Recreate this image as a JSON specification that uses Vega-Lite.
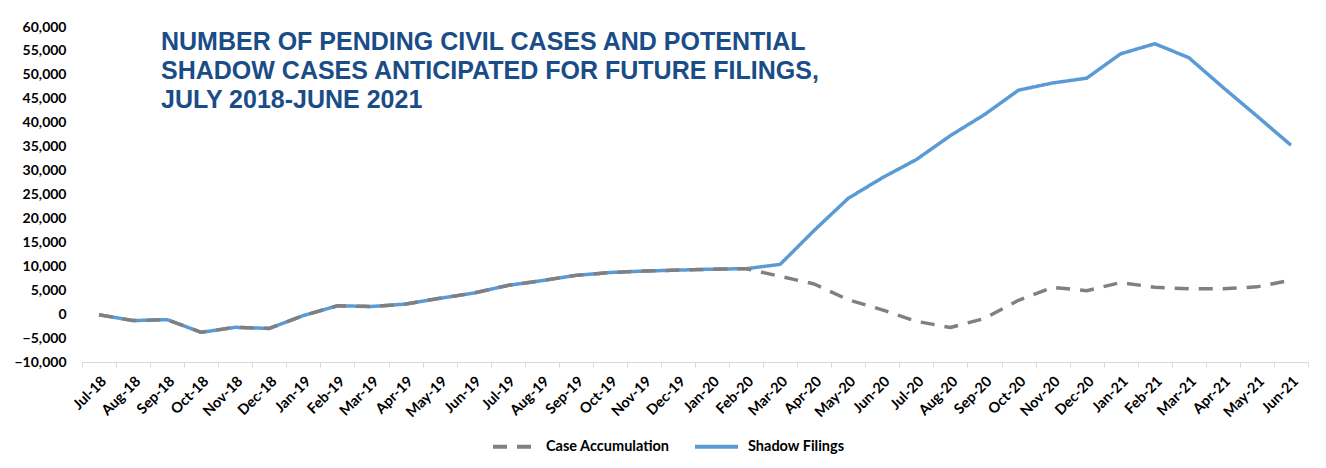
{
  "$schema": "https://vega.github.io/schema/vega-lite/v6.json",
  "width": 1226,
  "height": 335,
  "autosize": {"type": "none"},
  "padding": {"left": 82, "top": 27, "right": 18, "bottom": 106},
  "background": "white",
  "title": {
    "text": ["NUMBER OF PENDING CIVIL CASES AND POTENTIAL", "SHADOW CASES ANTICIPATED FOR FUTURE FILINGS,", "JULY 2018-JUNE 2021"],
    "anchor": "start",
    "frame": "group",
    "dx": 79,
    "offset": -93,
    "font": "Liberation Sans",
    "fontSize": 25,
    "fontWeight": "bold",
    "color": "#1a4d87",
    "lineHeight": 29
  },
  "config": {
    "view": {"stroke": null},
    "axis": {"labelFont": "Lato", "labelFontWeight": "bold", "labelColor": "#000000"}
  },
  "data": {
    "values": [
      {"month": "Jul-18", "series": "Shadow Filings", "value": -130},
      {"month": "Aug-18", "series": "Shadow Filings", "value": -1350},
      {"month": "Sep-18", "series": "Shadow Filings", "value": -1150},
      {"month": "Oct-18", "series": "Shadow Filings", "value": -3800},
      {"month": "Nov-18", "series": "Shadow Filings", "value": -2750},
      {"month": "Dec-18", "series": "Shadow Filings", "value": -2980},
      {"month": "Jan-19", "series": "Shadow Filings", "value": -300},
      {"month": "Feb-19", "series": "Shadow Filings", "value": 1750},
      {"month": "Mar-19", "series": "Shadow Filings", "value": 1600},
      {"month": "Apr-19", "series": "Shadow Filings", "value": 2100},
      {"month": "May-19", "series": "Shadow Filings", "value": 3300},
      {"month": "Jun-19", "series": "Shadow Filings", "value": 4400},
      {"month": "Jul-19", "series": "Shadow Filings", "value": 6000},
      {"month": "Aug-19", "series": "Shadow Filings", "value": 7000},
      {"month": "Sep-19", "series": "Shadow Filings", "value": 8100},
      {"month": "Oct-19", "series": "Shadow Filings", "value": 8700},
      {"month": "Nov-19", "series": "Shadow Filings", "value": 9000},
      {"month": "Dec-19", "series": "Shadow Filings", "value": 9200},
      {"month": "Jan-20", "series": "Shadow Filings", "value": 9400},
      {"month": "Feb-20", "series": "Shadow Filings", "value": 9500},
      {"month": "Mar-20", "series": "Shadow Filings", "value": 10400},
      {"month": "Apr-20", "series": "Shadow Filings", "value": 17500},
      {"month": "May-20", "series": "Shadow Filings", "value": 24200},
      {"month": "Jun-20", "series": "Shadow Filings", "value": 28500},
      {"month": "Jul-20", "series": "Shadow Filings", "value": 32300},
      {"month": "Aug-20", "series": "Shadow Filings", "value": 37300},
      {"month": "Sep-20", "series": "Shadow Filings", "value": 41700},
      {"month": "Oct-20", "series": "Shadow Filings", "value": 46800},
      {"month": "Nov-20", "series": "Shadow Filings", "value": 48300},
      {"month": "Dec-20", "series": "Shadow Filings", "value": 49300},
      {"month": "Jan-21", "series": "Shadow Filings", "value": 54400},
      {"month": "Feb-21", "series": "Shadow Filings", "value": 56500},
      {"month": "Mar-21", "series": "Shadow Filings", "value": 53600},
      {"month": "Apr-21", "series": "Shadow Filings", "value": 47400},
      {"month": "May-21", "series": "Shadow Filings", "value": 41400},
      {"month": "Jun-21", "series": "Shadow Filings", "value": 35300},
      {"month": "Jul-18", "series": "Case Accumulation", "value": -130},
      {"month": "Aug-18", "series": "Case Accumulation", "value": -1350},
      {"month": "Sep-18", "series": "Case Accumulation", "value": -1150},
      {"month": "Oct-18", "series": "Case Accumulation", "value": -3800},
      {"month": "Nov-18", "series": "Case Accumulation", "value": -2750},
      {"month": "Dec-18", "series": "Case Accumulation", "value": -2980},
      {"month": "Jan-19", "series": "Case Accumulation", "value": -300},
      {"month": "Feb-19", "series": "Case Accumulation", "value": 1750},
      {"month": "Mar-19", "series": "Case Accumulation", "value": 1600},
      {"month": "Apr-19", "series": "Case Accumulation", "value": 2100},
      {"month": "May-19", "series": "Case Accumulation", "value": 3300},
      {"month": "Jun-19", "series": "Case Accumulation", "value": 4400},
      {"month": "Jul-19", "series": "Case Accumulation", "value": 6000},
      {"month": "Aug-19", "series": "Case Accumulation", "value": 7000},
      {"month": "Sep-19", "series": "Case Accumulation", "value": 8100},
      {"month": "Oct-19", "series": "Case Accumulation", "value": 8700},
      {"month": "Nov-19", "series": "Case Accumulation", "value": 9000},
      {"month": "Dec-19", "series": "Case Accumulation", "value": 9200},
      {"month": "Jan-20", "series": "Case Accumulation", "value": 9400},
      {"month": "Feb-20", "series": "Case Accumulation", "value": 9500},
      {"month": "Mar-20", "series": "Case Accumulation", "value": 7900},
      {"month": "Apr-20", "series": "Case Accumulation", "value": 6300},
      {"month": "May-20", "series": "Case Accumulation", "value": 3000},
      {"month": "Jun-20", "series": "Case Accumulation", "value": 900},
      {"month": "Jul-20", "series": "Case Accumulation", "value": -1500},
      {"month": "Aug-20", "series": "Case Accumulation", "value": -2800},
      {"month": "Sep-20", "series": "Case Accumulation", "value": -900},
      {"month": "Oct-20", "series": "Case Accumulation", "value": 2900},
      {"month": "Nov-20", "series": "Case Accumulation", "value": 5600},
      {"month": "Dec-20", "series": "Case Accumulation", "value": 4900},
      {"month": "Jan-21", "series": "Case Accumulation", "value": 6600},
      {"month": "Feb-21", "series": "Case Accumulation", "value": 5600},
      {"month": "Mar-21", "series": "Case Accumulation", "value": 5300},
      {"month": "Apr-21", "series": "Case Accumulation", "value": 5300},
      {"month": "May-21", "series": "Case Accumulation", "value": 5700},
      {"month": "Jun-21", "series": "Case Accumulation", "value": 7100}
    ]
  },
  "mark": {"type": "line", "strokeWidth": 3.5, "strokeCap": "butt", "strokeJoin": "round"},
  "encoding": {
    "x": {
      "field": "month",
      "type": "ordinal",
      "sort": null,
      "scale": {"type": "band", "paddingInner": 0, "paddingOuter": 0},
      "axis": {
        "title": null,
        "tickBand": "extent",
        "domainColor": "#d9d9d9",
        "domainWidth": 1,
        "tickColor": "#d9d9d9",
        "tickSize": 5,
        "labelAngle": -45,
        "labelAlign": "right",
        "labelBaseline": "top",
        "labelFontSize": 14.5,
        "labelPadding": 7,
        "labelOverlap": false
      }
    },
    "y": {
      "field": "value",
      "type": "quantitative",
      "scale": {"domain": [-10000, 60000], "nice": false, "zero": false},
      "axis": {
        "title": null,
        "values": [-10000, -5000, 0, 5000, 10000, 15000, 20000, 25000, 30000, 35000, 40000, 45000, 50000, 55000, 60000],
        "format": ",.0f",
        "grid": false,
        "domain": false,
        "ticks": false,
        "labelFontSize": 14,
        "labelPadding": 16
      }
    },
    "color": {
      "field": "series",
      "type": "nominal",
      "scale": {"domain": ["Case Accumulation", "Shadow Filings"], "range": ["#808080", "#5b9bd5"]},
      "legend": {
        "title": null,
        "orient": "none",
        "legendX": 409,
        "legendY": 396,
        "direction": "horizontal",
        "symbolType": "stroke",
        "symbolSize": 1849,
        "symbolStrokeWidth": 4,
        "labelFont": "Lato",
        "labelFontWeight": "bold",
        "labelFontSize": 14.5,
        "labelColor": "#000000",
        "columnPadding": 17,
        "labelOffset": 8
      }
    },
    "strokeDash": {
      "field": "series",
      "type": "nominal",
      "scale": {"domain": ["Case Accumulation", "Shadow Filings"], "range": [[14, 10], [1, 0]]},
      "legend": null
    }
  }
}
